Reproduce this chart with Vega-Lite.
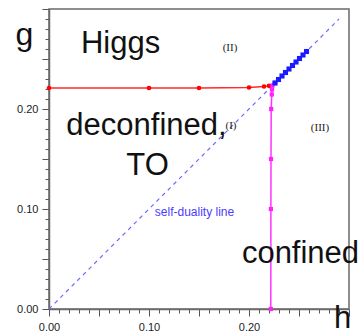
{
  "$schema": "https://vega.github.io/schema/vega-lite/v6.json",
  "width": 300,
  "height": 300,
  "autosize": "none",
  "padding": {"left": 49, "top": 9, "right": 12, "bottom": 24},
  "background": "white",
  "config": {
    "font": "Liberation Sans",
    "view": {"stroke": "#6a6a6a", "strokeWidth": 1.5},
    "axis": {
      "grid": false,
      "domainColor": "#6a6a6a",
      "domainWidth": 1.5,
      "tickColor": "#555555",
      "labelFontSize": 11,
      "labelColor": "#222222",
      "labelFont": "Liberation Sans",
      "labelOverlap": false,
      "labelFlush": false,
      "titleFont": "Liberation Sans",
      "titleFontWeight": "normal",
      "titleColor": "#111111"
    }
  },
  "datasets": {
    "diag": [{"h": 0, "g": 0}, {"h": 0.29, "g": 0.29}],
    "red": [
      {"h": 0.0, "g": 0.221},
      {"h": 0.10, "g": 0.221},
      {"h": 0.15, "g": 0.221},
      {"h": 0.20, "g": 0.2215},
      {"h": 0.215, "g": 0.2225},
      {"h": 0.22, "g": 0.2232},
      {"h": 0.226, "g": 0.226}
    ],
    "blue": [
      {"h": 0.226, "g": 0.226},
      {"h": 0.2295, "g": 0.2295},
      {"h": 0.233, "g": 0.233},
      {"h": 0.2365, "g": 0.2365},
      {"h": 0.240, "g": 0.240},
      {"h": 0.2435, "g": 0.2435},
      {"h": 0.247, "g": 0.247},
      {"h": 0.2505, "g": 0.2505},
      {"h": 0.254, "g": 0.254},
      {"h": 0.2575, "g": 0.2575}
    ],
    "magenta": [
      {"g": 0.0, "h": 0.2218},
      {"g": 0.10, "h": 0.2219},
      {"g": 0.15, "h": 0.222},
      {"g": 0.20, "h": 0.2222},
      {"g": 0.2145, "h": 0.2228},
      {"g": 0.2195, "h": 0.223},
      {"g": 0.2235, "h": 0.2235},
      {"g": 0.226, "h": 0.226}
    ],
    "bigtext": [
      {"label": "Higgs", "h": 0.0715, "g": 0.256},
      {"label": "deconfined,", "h": 0.0975, "g": 0.174},
      {"label": "TO", "h": 0.0985, "g": 0.134},
      {"label": "confined", "h": 0.2515, "g": 0.046}
    ],
    "roman": [
      {"label": "(II)", "h": 0.181, "g": 0.261},
      {"label": "(I)", "h": 0.182, "g": 0.183},
      {"label": "(III)", "h": 0.271, "g": 0.181}
    ],
    "note": [{"label": "self-duality line", "h": 0.1455, "g": 0.097}]
  },
  "encoding": {
    "x": {
      "field": "h", "type": "quantitative",
      "scale": {"domain": [0, 0.3], "nice": false, "zero": false},
      "axis": {
        "title": "h",
        "titleFontSize": 31,
        "titleX": 293,
        "titleY": 18,
        "titleAlign": "center",
        "titleBaseline": "alphabetic",
        "values": [0,0.01,0.02,0.03,0.04,0.05,0.06,0.07,0.08,0.09,0.1,0.11,0.12,0.13,0.14,0.15,0.16,0.17,0.18,0.19,0.2,0.21,0.22,0.23,0.24,0.25,0.26,0.27,0.28,0.29,0.3],
        "labelExpr": "round(datum.value*100) % 10 == 0 && datum.value < 0.25 ? format(datum.value, '.2f') : ''",
        "tickSize": {"condition": {"test": "round(datum.value*100) % 5 == 0", "value": 7}, "value": 4},
        "labelPadding": 5
      }
    },
    "y": {
      "field": "g", "type": "quantitative",
      "scale": {"domain": [0, 0.3], "nice": false, "zero": false},
      "axis": {
        "title": "g",
        "titleFontSize": 32,
        "titleAngle": 0,
        "titleX": -25,
        "titleY": 35,
        "titleAlign": "center",
        "titleBaseline": "alphabetic",
        "values": [0,0.01,0.02,0.03,0.04,0.05,0.06,0.07,0.08,0.09,0.1,0.11,0.12,0.13,0.14,0.15,0.16,0.17,0.18,0.19,0.2,0.21,0.22,0.23,0.24,0.25,0.26,0.27,0.28,0.29,0.3],
        "labelExpr": "round(datum.value*100) % 10 == 0 && datum.value < 0.25 ? format(datum.value, '.2f') : ''",
        "tickSize": {"condition": {"test": "round(datum.value*100) % 5 == 0", "value": 7}, "value": 4},
        "labelPadding": 4
      }
    }
  },
  "layer": [
    {
      "data": {"name": "diag"},
      "mark": {"type": "line", "stroke": "#6b6bff", "color": "#6b6bff", "strokeWidth": 1.2, "strokeDash": [4, 4]}
    },
    {
      "data": {"name": "red"},
      "mark": {"type": "line", "color": "#ff2a2a", "strokeWidth": 1.3, "point": {"filled": true, "size": 22, "color": "#ff0000"}}
    },
    {
      "data": {"name": "magenta"},
      "mark": {"type": "line", "color": "#ff33ff", "strokeWidth": 1.5, "orient": "vertical", "point": {"filled": true, "shape": "square", "size": 18, "color": "#ff22ff"}}
    },
    {
      "data": {"name": "blue"},
      "mark": {"type": "line", "color": "#2020ff", "strokeWidth": 1.5, "point": {"filled": true, "shape": "square", "size": 26, "color": "#1a1aff"}}
    },
    {
      "data": {"name": "bigtext"},
      "mark": {"type": "text", "fontSize": 31, "align": "center", "baseline": "alphabetic", "color": "#111111", "clip": false},
      "encoding": {"text": {"field": "label"}}
    },
    {
      "data": {"name": "roman"},
      "mark": {"type": "text", "font": "Liberation Serif", "fontSize": 11, "align": "center", "baseline": "middle", "color": "#222222"},
      "encoding": {"text": {"field": "label"}}
    },
    {
      "data": {"name": "note"},
      "mark": {"type": "text", "fontSize": 12, "align": "center", "baseline": "middle", "color": "#4a3cff"},
      "encoding": {"text": {"field": "label"}}
    }
  ]
}
